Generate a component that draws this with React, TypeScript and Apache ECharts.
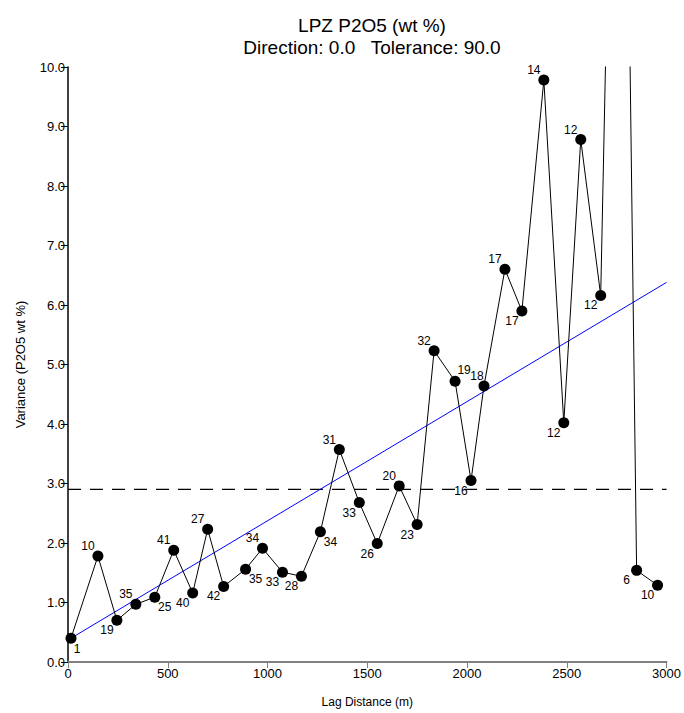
import React, { useEffect, useRef } from "react";
import * as echarts from "echarts";

const lags = [15, 150, 245, 340, 435, 530, 625, 700, 780, 890, 975, 1075, 1170, 1265, 1360, 1460, 1550, 1660, 1750, 1835, 1940, 2020, 2085, 2190, 2275, 2385, 2485, 2570, 2670, 2770, 2850, 2955];
const variances = [0.40, 1.78, 0.70, 0.97, 1.09, 1.88, 1.16, 2.23, 1.27, 1.56, 1.91, 1.51, 1.44, 2.19, 3.57, 2.68, 1.99, 2.96, 2.31, 5.23, 4.72, 3.05, 4.64, 6.60, 5.90, 9.78, 4.02, 8.78, 6.16, 22.3, 1.54, 1.29];
const pairs = ["1", "10", "19", "35", "25", "41", "40", "27", "42", "35", "34", "33", "28", "34", "31", "33", "26", "20", "23", "32", "19", "16", "18", "17", "17", "14", "12", "12", "12", "", "6", "10"];
// label placement relative to point: NW, SW, NE, SE
const labelSide = ["SE", "NW", "SW", "NW", "SE", "NW", "SW", "NW", "SW", "SE", "NW", "SW", "SW", "SE", "NW", "SW", "SW", "NW", "SW", "NW", "NE", "SW", "NW", "NW", "SW", "NW", "SW", "NW", "SW", "SW", "SW", "SW"];
const sillValue = 2.9;
const trendLine = [[15, 0.40], [3000, 6.38]];
const xTicks = { min: 0, max: 3000, interval: 500 };
const yTicks = { min: 0, max: 10, interval: 1 };

const sideOffset: Record<string, number[]> = {
  NW: [-10, -10],
  SW: [-10, 10],
  NE: [9, -11],
  SE: [10, 10],
};

export default function App() {
  const ref = useRef<HTMLDivElement>(null);
  useEffect(() => {
    if (!ref.current) return;
    const chart = echarts.init(ref.current, null, { renderer: "svg" });
    const font = "'Liberation Sans', Arial, sans-serif";
    const pointData = lags.map((x, i) => ({
      value: [x, variances[i]],
      label: {
        show: pairs[i] !== "",
        formatter: pairs[i],
        position: "inside",
        color: "#000",
        textBorderWidth: 0,
        textBorderColor: "transparent",
        offset: i === 0 ? [6, 11] : i === 22 ? [-7, -10] : sideOffset[labelSide[i]],
      },
    }));
    chart.setOption({
      animation: false,
      backgroundColor: "#ffffff",
      textStyle: { fontFamily: font },
      title: {
        text: "LPZ P2O5 (wt %)\nDirection: 0.0   Tolerance: 90.0",
        left: 367,
        textAlign: "center",
        top: 9,
        textStyle: { fontFamily: font, fontSize: 19, fontWeight: "normal", color: "#000", lineHeight: 22 },
      },
      grid: { left: 68, right: 17, top: 67, bottom: 49, containLabel: false },
      xAxis: {
        type: "value",
        min: xTicks.min,
        max: xTicks.max,
        interval: xTicks.interval,
        name: "Lag Distance (m)",
        nameLocation: "middle",
        nameGap: 34,
        nameTextStyle: { fontFamily: font, fontSize: 12, color: "#000" },
        axisLine: { show: true, onZero: false, lineStyle: { color: "#808080", width: 2 } },
        axisTick: { show: true, length: 6, lineStyle: { color: "#808080", width: 1 } },
        axisLabel: { fontFamily: font, fontSize: 13, color: "#000", margin: 5, formatter: (v: number) => String(v) },
        splitLine: { show: false },
      },
      yAxis: {
        type: "value",
        min: yTicks.min,
        max: yTicks.max,
        interval: yTicks.interval,
        name: "Variance (P2O5 wt %)",
        nameLocation: "middle",
        nameRotate: 90,
        nameGap: 41,
        nameTextStyle: { fontFamily: font, fontSize: 13, color: "#000" },
        axisLine: { show: true, onZero: false, lineStyle: { color: "#000", width: 1.5 } },
        axisTick: { show: true, length: 7, lineStyle: { color: "#000", width: 1 } },
        axisLabel: { fontFamily: font, fontSize: 13, color: "#000", margin: 3, formatter: (v: number) => v.toFixed(1) },
        splitLine: { show: false },
      },
      series: [
        {
          type: "line",
          data: [[0, sillValue], [3000, sillValue]],
          symbol: "none",
          lineStyle: { color: "#000", width: 1.3, type: [13, 9] },
          silent: true,
          z: 1,
        },
        {
          type: "line",
          data: trendLine,
          symbol: "none",
          lineStyle: { color: "#0000ff", width: 1 },
          silent: true,
          z: 2,
        },
        {
          type: "line",
          data: pointData,
          clip: true,
          symbol: "circle",
          symbolSize: 11,
          itemStyle: { color: "#000" },
          lineStyle: { color: "#000", width: 1 },
          label: { fontFamily: font, fontSize: 12, color: "#000" },
          z: 3,
        },
      ],
    });
    return () => chart.dispose();
  }, []);
  return <div ref={ref} style={{ position: "fixed", left: 0, top: 0, width: 684, height: 713 }} />;
}
